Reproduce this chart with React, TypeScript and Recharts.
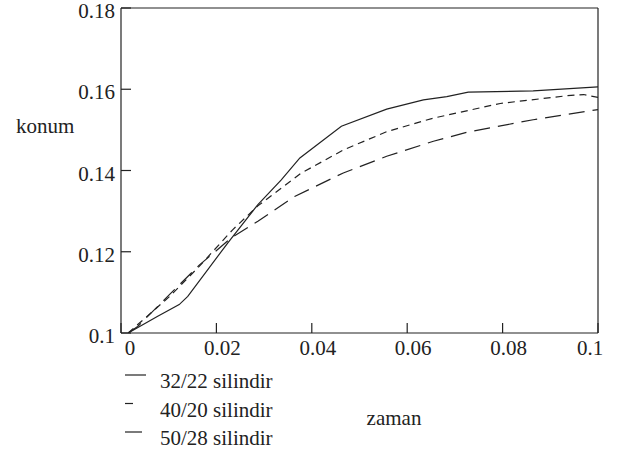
import { LineChart, Line, XAxis, YAxis, ReferenceLine, Legend } from 'recharts'

// zaman (s) vs konum (m) for three cylinder sizes
const cyl3222 = [
  { t: 0.0015, pos: 0.1 },
  { t: 0.0077, pos: 0.1041 },
  { t: 0.0122, pos: 0.107 },
  { t: 0.014, pos: 0.109 },
  { t: 0.0224, pos: 0.1222 },
  { t: 0.0287, pos: 0.1316 },
  { t: 0.0336, pos: 0.1377 },
  { t: 0.0375, pos: 0.1431 },
  { t: 0.0462, pos: 0.1509 },
  { t: 0.0557, pos: 0.1551 },
  { t: 0.0634, pos: 0.1574 },
  { t: 0.0683, pos: 0.1582 },
  { t: 0.0728, pos: 0.1593 },
  { t: 0.0864, pos: 0.1596 },
  { t: 0.1, pos: 0.1606 },
]

const cyl4020 = [
  { t: 0.0015, pos: 0.1 },
  { t: 0.0102, pos: 0.109 },
  { t: 0.0164, pos: 0.1164 },
  { t: 0.0234, pos: 0.1254 },
  { t: 0.0287, pos: 0.1313 },
  { t: 0.0377, pos: 0.1393 },
  { t: 0.0467, pos: 0.1451 },
  { t: 0.0558, pos: 0.1496 },
  { t: 0.0655, pos: 0.1529 },
  { t: 0.0795, pos: 0.1565 },
  { t: 0.0935, pos: 0.1584 },
  { t: 0.097, pos: 0.1587 },
  { t: 0.1, pos: 0.158 },
]

const cyl5028 = [
  { t: 0.0015, pos: 0.1 },
  { t: 0.0035, pos: 0.1016 },
  { t: 0.0102, pos: 0.1095 },
  { t: 0.0164, pos: 0.1167 },
  { t: 0.0231, pos: 0.1234 },
  { t: 0.0287, pos: 0.1275 },
  { t: 0.0364, pos: 0.1336 },
  { t: 0.0466, pos: 0.1394 },
  { t: 0.0557, pos: 0.1435 },
  { t: 0.0655, pos: 0.1472 },
  { t: 0.0725, pos: 0.1494 },
  { t: 0.0864, pos: 0.1525 },
  { t: 0.1, pos: 0.155 },
]

const xTicks = [0, 0.02, 0.04, 0.06, 0.08, 0.1]
const xTickLabels = ['0', '0.02', '0.04', '0.06', '0.08', '0.1']
const yTicks = [0.1, 0.12, 0.14, 0.16, 0.18]
const yTickLabels = ['0.1', '0.12', '0.14', '0.16', '0.18']

const seriesNames = ['32/22 silindir', '40/20 silindir', '50/28 silindir']

const textStyle = { fontFamily: 'Liberation Serif, DejaVu Serif, serif', fontSize: 21 }
const INK = '#222'

const XTick = (props: any) => {
  const { x, y, index } = props
  // labels sit a bit right of the tick, except the last one
  const dx = index === 0 ? 9 : index === xTicks.length - 1 ? -8 : 6
  return (
    <g>
      <line x1={x} y1={y} x2={x} y2={y - 10} stroke={INK} strokeWidth={1.2} />
      <text x={x + dx} y={y + 22} textAnchor="middle" style={textStyle} fill={INK}>
        {xTickLabels[index]}
      </text>
    </g>
  )
}

const YTick = (props: any) => {
  const { x, y, index } = props
  return (
    <g>
      <line x1={x} y1={y} x2={x + 10} y2={y} stroke={INK} strokeWidth={1.2} />
      <text x={x - 6} y={y + 10} textAnchor="end" style={textStyle} fill={INK}>
        {yTickLabels[index]}
      </text>
    </g>
  )
}

const legendRows = [
  { name: seriesNames[0], len: 21 },
  { name: seriesNames[1], len: 8 },
  { name: seriesNames[2], len: 17 },
]

const renderLegend = () => (
  <svg width={200} height={95} style={{ display: 'block' }}>
    {legendRows.map((r, i) => (
      <g key={r.name}>
        <line x1={10} y1={15 + i * 28.5} x2={10 + r.len} y2={15 + i * 28.5} stroke={INK} strokeWidth={1.2} />
        <text x={45} y={28 + i * 28.5} style={textStyle} fill={INK}>
          {r.name}
        </text>
      </g>
    ))}
  </svg>
)

export default function App() {
  return (
    <div style={{ position: 'absolute', left: 0, top: 0, width: 621, height: 455, background: '#fff' }}>
      <LineChart width={621} height={455} margin={{ top: 8, right: 23, bottom: 0, left: 0 }}>
        <XAxis
          dataKey="t"
          type="number"
          domain={[0, 0.1]}
          ticks={xTicks}
          allowDataOverflow
          height={122}
          tickSize={0}
          tickMargin={0}
          tickLine={false}
          tick={<XTick />}
          interval={0}
          axisLine={{ stroke: INK, strokeWidth: 1.2 }}
          label={{
            content: () => (
              <text x={394} y={425} textAnchor="middle" style={textStyle} fill={INK}>
                zaman
              </text>
            ),
          }}
        />
        <YAxis
          dataKey="pos"
          type="number"
          domain={[0.1, 0.18]}
          ticks={yTicks}
          allowDataOverflow
          width={121}
          tickSize={0}
          tickMargin={0}
          tickLine={false}
          tick={<YTick />}
          interval={0}
          axisLine={{ stroke: INK, strokeWidth: 1.2 }}
          label={{
            content: () => (
              <text x={16} y={133} style={textStyle} fill={INK}>
                konum
              </text>
            ),
          }}
        />
        <ReferenceLine y={0.18} stroke={INK} strokeWidth={1.2} />
        <ReferenceLine x={0.1} stroke={INK} strokeWidth={1.2} />
        <Legend
          layout="vertical"
          align="center"
          verticalAlign="middle"
          content={renderLegend}
          wrapperStyle={{ left: 115, top: 360, width: 200, height: 95 }}
        />
        <Line
          data={cyl3222}
          dataKey="pos"
          name={seriesNames[0]}
          type="linear"
          stroke={INK}
          strokeWidth={1.2}
          dot={false}
          isAnimationActive={false}
        />
        <Line
          data={cyl4020}
          dataKey="pos"
          name={seriesNames[1]}
          type="linear"
          stroke={INK}
          strokeWidth={1.2}
          strokeDasharray="7 5"
          dot={false}
          isAnimationActive={false}
        />
        <Line
          data={cyl5028}
          dataKey="pos"
          name={seriesNames[2]}
          type="linear"
          stroke={INK}
          strokeWidth={1.2}
          strokeDasharray="16 8"
          dot={false}
          isAnimationActive={false}
        />
      </LineChart>
    </div>
  )
}
